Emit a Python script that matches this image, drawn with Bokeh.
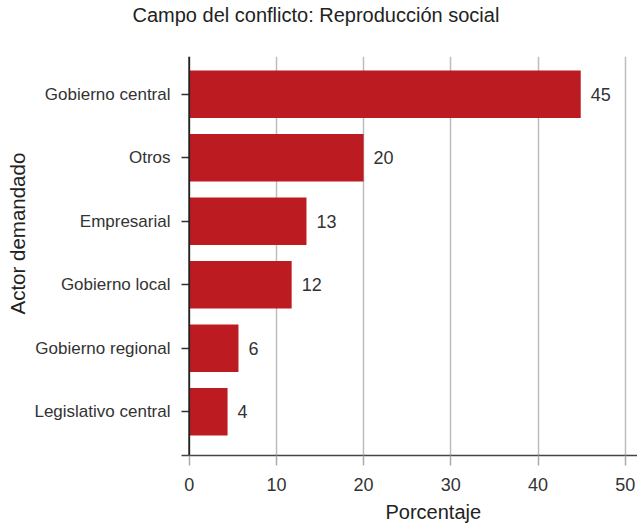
from bokeh.plotting import figure
from bokeh.models import ColumnDataSource, Range1d, FixedTicker, Span, Title
from bokeh.core.properties import value
from bokeh.embed import file_html
from bokeh.resources import INLINE

# ---- data ----
categories = ["Gobierno central", "Otros", "Empresarial", "Gobierno local",
              "Gobierno regional", "Legislativo central"]
values = [44.9, 20.0, 13.45, 11.75, 5.65, 4.4]
x_ticks = [0, 10, 20, 30, 40, 50]
title_text = "Campo del conflicto: Reproducción social"
x_title = "Porcentaje"
y_title = "Actor demandado"

FONT = "Liberation Sans"
TXT = "#333333"
BAR = "#BD1B22"

n = len(categories)
ypos = [n - i for i in range(n)]
labels = [f"{v:.0f}" for v in values]

src = ColumnDataSource(dict(y=ypos, value=values, label=labels, cat=categories))

p = figure(width=637, height=528, output_backend="svg", toolbar_location=None,
           title=None,
           x_range=Range1d(-0.883, 51.41), y_range=Range1d(0.312, n + 0.595),
           min_border_left=181, min_border_right=0, min_border_top=56,
           min_border_bottom=73)
p.outline_line_color = None
p.background_fill_color = "white"
p.border_fill_color = "white"

p.hbar(y="y", right="value", left=0, height=0.75, source=src,
       fill_color=BAR, line_color=None)

p.text(x="value", y="y", text="label", source=src, x_offset=10,
       text_baseline="middle", text_align="left",
       text_font=value(FONT), text_font_size="18px", text_color=TXT)

# grid
p.ygrid.grid_line_color = None
p.xgrid.ticker = FixedTicker(ticks=x_ticks)
p.xgrid.grid_line_color = "#bdbdbd"
p.xgrid.grid_line_width = 1.5

# x axis
xa = p.xaxis[0]
xa.ticker = FixedTicker(ticks=x_ticks)
xa.axis_line_color = "#444444"
xa.axis_line_width = 1.5
xa.major_tick_line_color = "#aaaaaa"
xa.major_tick_line_width = 1.5
xa.major_tick_in = 0
xa.major_tick_out = 10
xa.minor_tick_line_color = None
xa.major_label_standoff = 12
xa.major_label_text_font = FONT
xa.major_label_text_font_size = "18px"
xa.major_label_text_color = TXT

# y axis
ya = p.yaxis[0]
ya.ticker = FixedTicker(ticks=ypos)
ya.major_label_overrides = {y: c for y, c in zip(ypos, categories)}
ya.axis_line_color = None
ya.major_tick_line_color = "#333333"
ya.major_tick_line_width = 1.5
ya.major_tick_in = 8
ya.major_tick_out = 0
ya.minor_tick_line_color = None
ya.major_label_standoff = 11
ya.major_label_text_font = FONT
ya.major_label_text_font_size = "17px"
ya.major_label_text_color = TXT

# vertical line at zero
p.add_layout(Span(location=0, dimension="height", line_color="#222222", line_width=1.8))

# titles
spacer = Title(text=" ", text_font_size="1px", standoff=28)
p.add_layout(spacer, "above")
p.add_layout(Title(text=title_text, align="left", offset=-49, standoff=0,
                   text_font=FONT, text_font_size="20px", text_font_style="normal",
                   text_color="#222222"), "above")
p.add_layout(Title(text=x_title, align="left", offset=204, standoff=11,
                   vertical_align="bottom",
                   text_font=FONT, text_font_size="20px", text_font_style="normal",
                   text_color="#222222"), "below")
p.add_layout(Title(text=y_title, align="left", offset=141, standoff=6,
                   vertical_align="bottom",
                   text_font=FONT, text_font_size="20.5px", text_font_style="normal",
                   text_color="#222222"), "left")

open("out.html", "w").write(file_html(p, INLINE))
